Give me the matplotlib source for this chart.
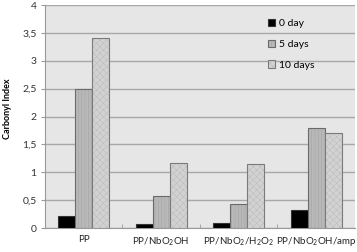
import matplotlib
matplotlib.use("Agg")
import matplotlib.pyplot as plt
import numpy as np

categories = ["PP", "PP/NbO$_2$OH", "PP/NbO$_2$/H$_2$O$_2$", "PP/NbO$_2$OH/amp"]
series_names = ["0 day", "5 days", "10 days"]
day0 = [0.22, 0.08, 0.09, 0.33]
day5 = [2.5, 0.57, 0.44, 1.8]
day10 = [3.4, 1.16, 1.14, 1.7]
yticks = [0, 0.5, 1, 1.5, 2, 2.5, 3, 3.5, 4]
ytick_labels = ["0", "0,5", "1", "1,5", "2", "2,5", "3", "3,5", "4"]

plt.rcParams['font.family'] = ['Lato', 'DejaVu Sans']
plt.rcParams['mathtext.default'] = 'regular'
plt.rcParams['hatch.linewidth'] = 0.4

fig = plt.figure(figsize=(3.57, 2.52), dpi=100)
ax = fig.add_axes([0.126, 0.095, 0.868, 0.885])
ax.set_facecolor('#e6e6e6')

x = np.arange(len(categories))
w = 0.22
styles = [
    dict(color='#000000', hatch=None, edgecolor='#333333', hc=None),
    dict(color='#b8b8b8', hatch='|||||', edgecolor='#6a6a6a', hc='#a4a4a4'),
    dict(color='#d2d2d2', hatch='xxxxx', edgecolor='#7a7a7a', hc='#bdbdbd'),
]
for i, (vals, name, st) in enumerate(zip([day0, day5, day10], series_names, styles)):
    bars = ax.bar(x + (i - 1) * w, vals, w, color=st['color'], edgecolor=st['edgecolor'],
                  linewidth=0.8, label=name, zorder=3)
    if st['hatch']:
        for b in bars:
            b.set_hatch(st['hatch'])
            b._hatch_color = matplotlib.colors.to_rgba(st['hc'])

ax.set_ylim(0, 4)
ax.set_xlim(-0.5, 3.5)
ax.set_yticks(yticks)
ax.set_yticklabels(ytick_labels, fontsize=7.5, color='#333333')
ax.yaxis.grid(True, color='#a8a8a8', linewidth=1.0, zorder=0)
ax.set_axisbelow(True)
ax.tick_params(axis='y', length=3, color='#999999', pad=3)
ax.set_xticks(x)
ax.set_xticklabels(categories, fontsize=7, color='#222222')
ax.tick_params(axis='x', length=0, pad=5)
ax.set_xticks([0.5, 1.5, 2.5], minor=True)
ax.tick_params(axis='x', which='minor', length=3, color='#999999', direction='in')
for s in ['top', 'right']:
    ax.spines[s].set_visible(False)
ax.spines['left'].set_color('#999999')
ax.spines['bottom'].set_color('#999999')

fig.text(0.022, 0.567, "Carbonyl Index", rotation=90, fontsize=6.5, fontweight='bold',
         ha='center', va='center')

leg = ax.legend(loc='upper left', bbox_to_anchor=(0.69, 0.98), frameon=False, fontsize=7.5,
                handlelength=0.7, handleheight=0.7, handletextpad=0.3, labelspacing=1.1)

fig.savefig("out.png", dpi=100)
